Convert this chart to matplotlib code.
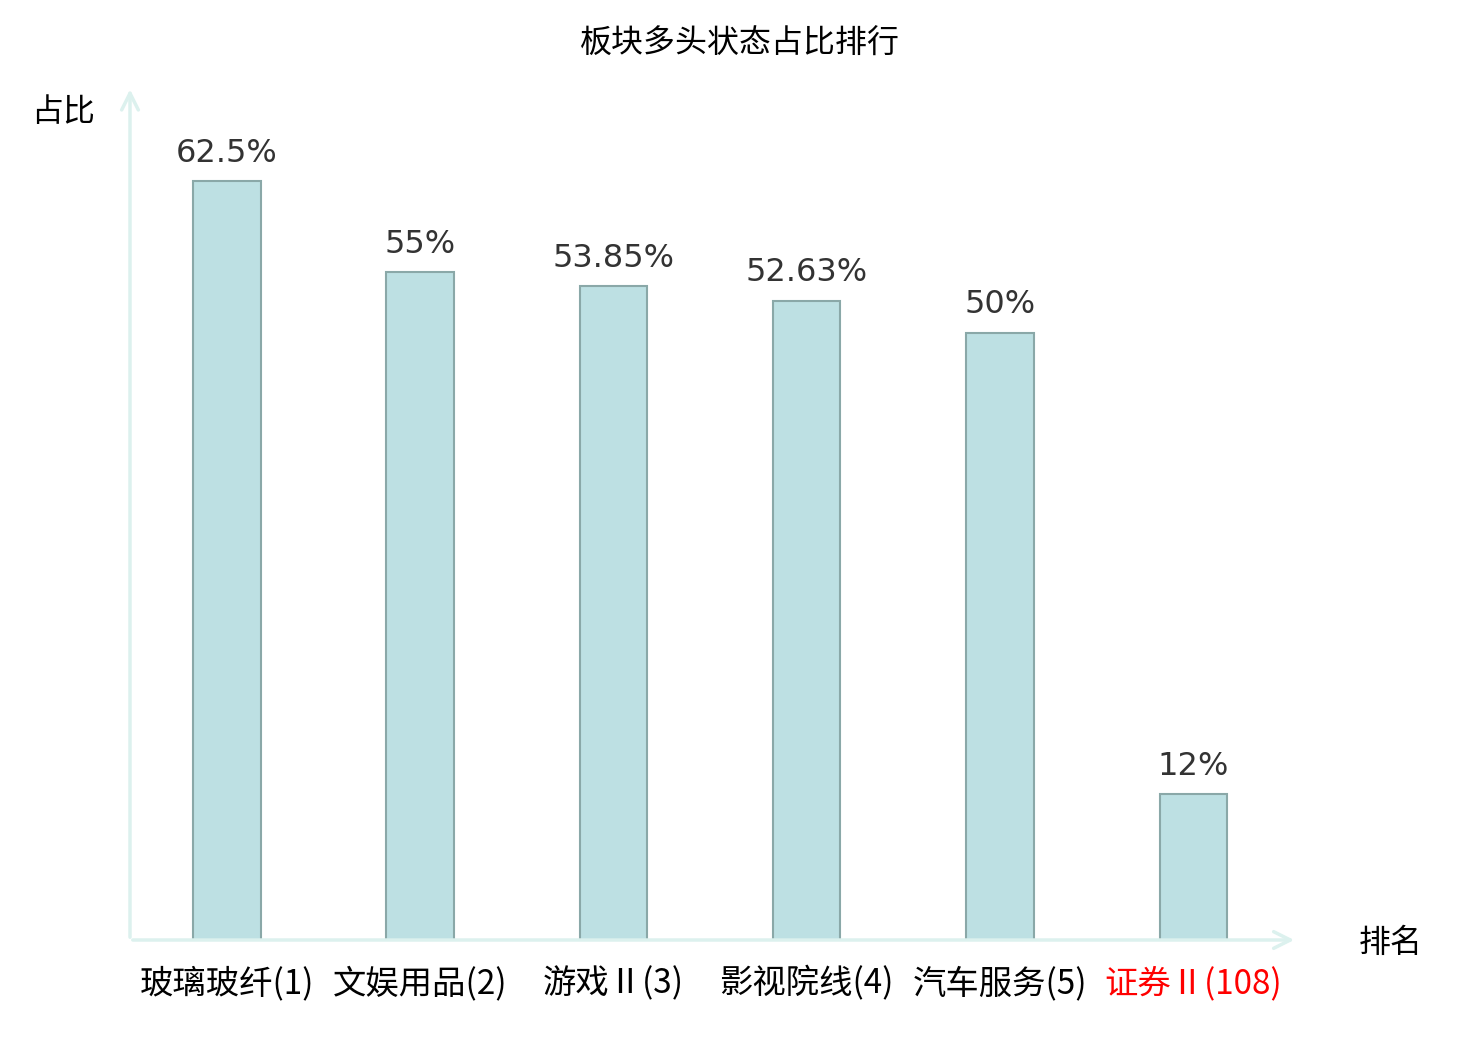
import matplotlib
matplotlib.use('Agg')
import matplotlib.pyplot as plt

categories = ['玻璃玻纤(1)', '文娱用品(2)', '游戏Ⅱ(3)', '影视院线(4)', '汽车服务(5)', '证券Ⅱ(108)']
values = [62.5, 55, 53.85, 52.63, 50, 12]
value_labels = ['62.5%', '55%', '53.85%', '52.63%', '50%', '12%']
label_colors = ['#000000'] * 5 + ['#ff0000']

plt.rcParams['font.family'] = ['Noto Sans CJK SC', 'DejaVu Sans']

fig = plt.figure(figsize=(14.8, 10.4), dpi=100)
ax = fig.add_axes([130 / 1480, 100 / 1040, 1160 / 1480, 850 / 1040])

x = list(range(len(categories)))
bars = ax.bar(x, values, width=0.35, color='#bde0e3', edgecolor='#8aa8a8', linewidth=1.5)

for b, lab in zip(bars, value_labels):
    ax.annotate(lab, (b.get_x() + b.get_width() / 2, b.get_height()),
                xytext=(0, 9), textcoords='offset points', ha='center', va='bottom',
                fontsize=23, color='#333333', family='DejaVu Sans')

ax.set_xlim(-0.5, 5.5)
ax.set_ylim(0, 70)
for s in ax.spines.values():
    s.set_visible(False)
ax.set_yticks([])
ax.set_xticks(x)
ax.set_xticklabels(categories, fontsize=24)
for t, c in zip(ax.get_xticklabels(), label_colors):
    t.set_color(c)
ax.tick_params(axis='x', length=0, pad=19)

# axis arrows
axis_col = '#dcf1ee'
ax.annotate('', xy=(0, 1.004), xytext=(0, 0), xycoords='axes fraction',
            arrowprops=dict(arrowstyle='->', color=axis_col, lw=2.5, mutation_scale=30),
            annotation_clip=False)
ax.annotate('', xy=(1.006, 0), xytext=(0, 0), xycoords='axes fraction',
            arrowprops=dict(arrowstyle='->', color=axis_col, lw=2.5, mutation_scale=30),
            annotation_clip=False)

fig.text(63 / 1480, 1 - 112 / 1040, '占比', fontsize=23, ha='center', va='center')
fig.text(1391 / 1480, 1 - 943 / 1040, '排名', fontsize=23, ha='center', va='center')
fig.text(740 / 1480, 1 - 44 / 1040, '板块多头状态占比排行', fontsize=23, ha='center', va='center')

fig.savefig('out.png', dpi=100, facecolor='white')
